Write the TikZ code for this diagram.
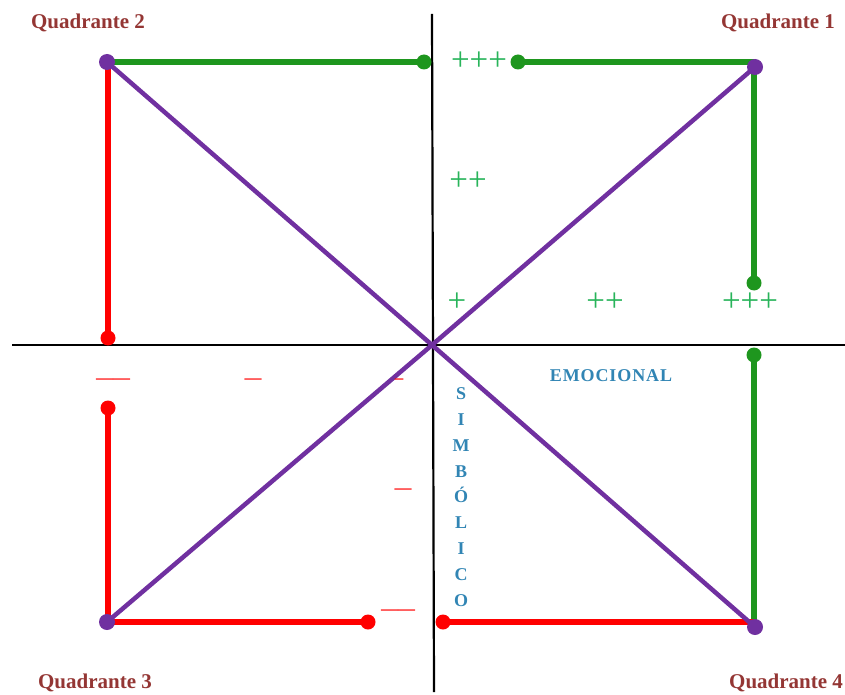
\documentclass[tikz,border=0pt]{standalone}
\usepackage{fontspec}
\setmainfont{Liberation Serif}
\definecolor{qgreen}{RGB}{30,150,30}
\definecolor{qred}{RGB}{255,0,0}
\definecolor{qpurple}{RGB}{112,48,160}
\definecolor{qbrown}{RGB}{148,54,52}
\definecolor{qblue}{RGB}{49,133,180}
\definecolor{qplus}{RGB}{40,180,90}
\begin{document}
\begin{tikzpicture}[x=1pt,y=-1pt,
  axis/.style={black,line width=2.2pt},
  gline/.style={qgreen,line width=5.5pt},
  rline/.style={qred,line width=5.5pt},
  pline/.style={qpurple,line width=4.5pt},
  gdot/.style={circle,fill=qgreen,inner sep=0pt,minimum size=15pt},
  rdot/.style={circle,fill=qred,inner sep=0pt,minimum size=15pt},
  pdot/.style={circle,fill=qpurple,inner sep=0pt,minimum size=16pt},
  quad/.style={text=qbrown,font=\fontsize{21}{21}\selectfont\bfseries,inner sep=0pt},
  plus/.style={text=qplus,font=\fontsize{33}{33}\selectfont,inner sep=0pt},
  minus/.style={text=qred,font=\fontsize{17}{17}\selectfont\bfseries,inner sep=0pt},
  lab/.style={text=qblue,font=\fontsize{18}{18}\selectfont\bfseries,inner sep=0pt}]
\useasboundingbox (0,0) rectangle (845,695);
% axes
\coordinate (vt) at (432,14);
\coordinate (vb) at (434,692);
\coordinate (hl) at (12,345);
\coordinate (hr) at (845,345);
\draw[axis] (vt) -- (vb);
\draw[axis] (hl) -- (hr);
% corners and center
\coordinate (O) at (432,345);
\coordinate (Q1) at (755,67);
\coordinate (Q2) at (107,62);
\coordinate (Q3) at (107,622);
\coordinate (Q4) at (755,627);
% green segments
\node[gdot] (g1) at (424,62) {};
\node[gdot] (g2) at (518,62) {};
\node[gdot] (g3) at (754,283) {};
\node[gdot] (g4) at (754,355) {};
\draw[gline] (Q2) -- (g1.center);
\draw[gline] (g2.center) -- (Q1 |- g2);
\draw[gline] (g3 |- Q1) -- (g3.center);
\draw[gline] (g4.center) -- (g4 |- Q4);
% red segments
\node[rdot] (r1) at (108,338) {};
\node[rdot] (r2) at (108,408) {};
\node[rdot] (r3) at (368,622) {};
\node[rdot] (r4) at (443,622) {};
\draw[rline] (Q2 -| r1) -- (r1.center);
\draw[rline] (r2.center) -- (Q3 -| r2);
\draw[rline] (Q3) -- (r3.center);
\draw[rline] (r4.center) -- (r4 -| Q4);
% purple diagonals
\draw[pline] (Q2) -- (O) -- (Q4);
\draw[pline] (Q1) -- (O) -- (Q3);
\node[pdot] (p1) at (Q1) {};
\node[pdot] (p2) at (Q2) {};
\node[pdot] (p3) at (Q3) {};
\node[pdot] (p4) at (Q4) {};
% plus labels
\node[plus] (pl1) at (479,61) {+++};
\node[plus] (pl2) at (468,181) {++};
\node[plus] (pl3) at (457,302) {+};
\node[plus] (pl4) at (605,302) {++};
\node[plus] (pl5) at (750,302) {+++};
% minus labels
\node[minus] (m1) at (113,381) {——};
\node[minus] (m2) at (253,381) {—};
\node[minus] (m3) at (399,381) {–};
\node[minus] (m4) at (403,491) {—};
\node[minus] (m5) at (398,612) {——};
% axis labels
\node[lab,font=\fontsize{18}{18}\selectfont\bfseries\addfontfeature{LetterSpace=5}] (emo) at (611,376) {EMOCIONAL};
\node[lab,align=center,font=\fontsize{18}{25.8}\selectfont\bfseries] (sim) at (461,497) {S\\I\\M\\B\\Ó\\L\\I\\C\\O};
% quadrant labels
\node[quad] (q1) at (778,23) {Quadrante 1};
\node[quad] (q2) at (88,23) {Quadrante 2};
\node[quad] (q3) at (95,683) {Quadrante 3};
\node[quad,anchor=west] (q4) at (729,683) {Quadrante 4};
\end{tikzpicture}
\end{document}
